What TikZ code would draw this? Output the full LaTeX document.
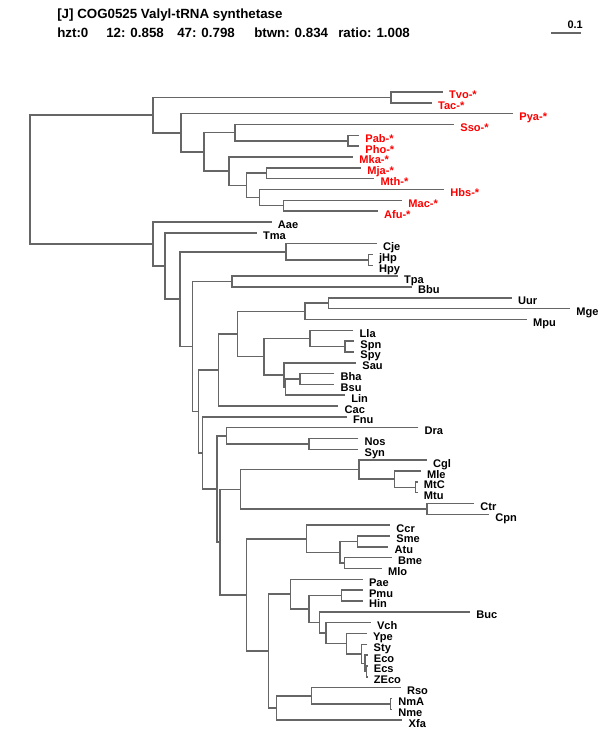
\documentclass[tikz,border=0pt]{standalone}
\usepackage{fontspec}
\setmainfont{Liberation Sans}

\begin{document}
\begin{tikzpicture}[
    x=0.75pt, y=-0.75pt,
    branch/.style={draw=black!60, line width=1.15pt},
    taxon/.style={anchor=base west, inner sep=0pt, xshift=4.6pt, yshift=-5.2pt, font=\bfseries\fontsize{8.3}{9}\selectfont},
    archaeon/.style={taxon, text=red},
    header/.style={anchor=base west, inner sep=0pt, font=\bfseries\fontsize{10}{12}\selectfont}
]
\useasboundingbox (0,0) rectangle (600,750);
% Header
\node[header] (title) at (57,18.5) {[J] COG0525 Valyl-tRNA synthetase};
\node[header] (hzt) at (57,37.5) {hzt:0};
\node[header] (q12) at (106,37.5) {12: 0.858};
\node[header] (q47) at (177,37.5) {47: 0.798};
\node[header] (btwn) at (254,37.5) {btwn: 0.834};
\node[header] (ratio) at (338,37.5) {ratio: 1.008};
% Scale bar
\coordinate (bar0) at (551,33);
\coordinate (bar1) at (581,33);
\node[anchor=base east, inner sep=0pt, font=\bfseries\fontsize{8.2}{9}\selectfont] (barlbl) at (583,28) {0.1};
% Archaea leaves
\coordinate (Tvo) at (442.7,92.0);  \node[archaeon] (Tvo-t) at (Tvo) {Tvo-*};
\coordinate (Tac) at (431.7,102.8); \node[archaeon] (Tac-t) at (Tac) {Tac-*};
\coordinate (Pya) at (513,113.7);   \node[archaeon] (Pya-t) at (Pya) {Pya-*};
\coordinate (Sso) at (454,124.5);   \node[archaeon] (Sso-t) at (Sso) {Sso-*};
\coordinate (Pab) at (359,135.3);   \node[archaeon] (Pab-t) at (Pab) {Pab-*};
\coordinate (Pho) at (359,146.2);   \node[archaeon] (Pho-t) at (Pho) {Pho-*};
\coordinate (Mka) at (353,157.0);   \node[archaeon] (Mka-t) at (Mka) {Mka-*};
\coordinate (Mja) at (361,167.8);   \node[archaeon] (Mja-t) at (Mja) {Mja-*};
\coordinate (Mth) at (374.3,178.6); \node[archaeon] (Mth-t) at (Mth) {Mth-*};
\coordinate (Hbs) at (444,189.5);   \node[archaeon] (Hbs-t) at (Hbs) {Hbs-*};
\coordinate (Mac) at (402,200.3);   \node[archaeon] (Mac-t) at (Mac) {Mac-*};
\coordinate (Afu) at (377.7,211.1); \node[archaeon] (Afu-t) at (Afu) {Afu-*};
% Bacteria leaves
\coordinate (Aae) at (271.5,222.0); \node[taxon] (Aae-t) at (Aae) {Aae};
\coordinate (Tma) at (256.7,232.8); \node[taxon] (Tma-t) at (Tma) {Tma};
\coordinate (Cje) at (376.7,243.6); \node[taxon] (Cje-t) at (Cje) {Cje};
\coordinate (jHp) at (372.7,254.5); \node[taxon] (jHp-t) at (jHp) {jHp};
\coordinate (Hpy) at (372.7,265.3); \node[taxon] (Hpy-t) at (Hpy) {Hpy};
\coordinate (Tpa) at (397.7,276.1); \node[taxon] (Tpa-t) at (Tpa) {Tpa};
\coordinate (Bbu) at (411.7,286.9); \node[taxon] (Bbu-t) at (Bbu) {Bbu};
\coordinate (Uur) at (511.7,297.8); \node[taxon] (Uur-t) at (Uur) {Uur};
\coordinate (Mge) at (570,308.6);   \node[taxon] (Mge-t) at (Mge) {Mge};
\coordinate (Mpu) at (526.7,319.4); \node[taxon] (Mpu-t) at (Mpu) {Mpu};
\coordinate (Lla) at (353.3,330.3); \node[taxon] (Lla-t) at (Lla) {Lla};
\coordinate (Spn) at (354,341.1);   \node[taxon] (Spn-t) at (Spn) {Spn};
\coordinate (Spy) at (354,351.9);   \node[taxon] (Spy-t) at (Spy) {Spy};
\coordinate (Sau) at (356,362.8);   \node[taxon] (Sau-t) at (Sau) {Sau};
\coordinate (Bha) at (334.3,373.6); \node[taxon] (Bha-t) at (Bha) {Bha};
\coordinate (Bsu) at (334.3,384.4); \node[taxon] (Bsu-t) at (Bsu) {Bsu};
\coordinate (Lin) at (345,395.2);   \node[taxon] (Lin-t) at (Lin) {Lin};
\coordinate (Cac) at (338.3,406.1); \node[taxon] (Cac-t) at (Cac) {Cac};
\coordinate (Fnu) at (346.7,416.9); \node[taxon] (Fnu-t) at (Fnu) {Fnu};
\coordinate (Dra) at (418.3,427.7); \node[taxon] (Dra-t) at (Dra) {Dra};
\coordinate (Nos) at (358.3,438.6); \node[taxon] (Nos-t) at (Nos) {Nos};
\coordinate (Syn) at (358.3,449.4); \node[taxon] (Syn-t) at (Syn) {Syn};
\coordinate (Cgl) at (426.7,460.2); \node[taxon] (Cgl-t) at (Cgl) {Cgl};
\coordinate (Mle) at (420.7,471.1); \node[taxon] (Mle-t) at (Mle) {Mle};
\coordinate (MtC) at (417.5,481.9); \node[taxon] (MtC-t) at (MtC) {MtC};
\coordinate (Mtu) at (417.5,492.7); \node[taxon] (Mtu-t) at (Mtu) {Mtu};
\coordinate (Ctr) at (474,503.5);   \node[taxon] (Ctr-t) at (Ctr) {Ctr};
\coordinate (Cpn) at (489,514.4);   \node[taxon] (Cpn-t) at (Cpn) {Cpn};
\coordinate (Ccr) at (390,525.2);   \node[taxon] (Ccr-t) at (Ccr) {Ccr};
\coordinate (Sme) at (390,536.0);   \node[taxon] (Sme-t) at (Sme) {Sme};
\coordinate (Atu) at (388.3,546.9); \node[taxon] (Atu-t) at (Atu) {Atu};
\coordinate (Bme) at (391.7,557.7); \node[taxon] (Bme-t) at (Bme) {Bme};
\coordinate (Mlo) at (381.7,568.5); \node[taxon] (Mlo-t) at (Mlo) {Mlo};
\coordinate (Pae) at (362.7,579.4); \node[taxon] (Pae-t) at (Pae) {Pae};
\coordinate (Pmu) at (362.7,590.2); \node[taxon] (Pmu-t) at (Pmu) {Pmu};
\coordinate (Hin) at (362.7,601.0); \node[taxon] (Hin-t) at (Hin) {Hin};
\coordinate (Buc) at (470,611.8);   \node[taxon] (Buc-t) at (Buc) {Buc};
\coordinate (Vch) at (370.7,622.7); \node[taxon] (Vch-t) at (Vch) {Vch};
\coordinate (Ype) at (366.7,633.5); \node[taxon] (Ype-t) at (Ype) {Ype};
\coordinate (Sty) at (367.3,644.3); \node[taxon] (Sty-t) at (Sty) {Sty};
\coordinate (Eco) at (367.5,655.2); \node[taxon] (Eco-t) at (Eco) {Eco};
\coordinate (Ecs) at (367.5,666.0); \node[taxon] (Ecs-t) at (Ecs) {Ecs};
\coordinate (ZEco) at (367.5,676.8); \node[taxon] (ZEco-t) at (ZEco) {ZEco};
\coordinate (Rso) at (400.7,687.6); \node[taxon] (Rso-t) at (Rso) {Rso};
\coordinate (NmA) at (392,698.5);   \node[taxon] (NmA-t) at (NmA) {NmA};
\coordinate (Nme) at (392,709.3);   \node[taxon] (Nme-t) at (Nme) {Nme};
\coordinate (Xfa) at (402.3,720.1); \node[taxon] (Xfa-t) at (Xfa) {Xfa};
% Inner nodes, archaea
\coordinate (root) at (30,179.5);
\coordinate (arc) at (153,115.1);
\coordinate (tt) at (391,97.4);
\coordinate (a1) at (181,132.8);
\coordinate (a2) at (204,151.9);
\coordinate (a3) at (235,132.6);
\coordinate (pp) at (348,140.75);
\coordinate (a4) at (229,171.2);
\coordinate (a5) at (246.5,185.4);
\coordinate (a6) at (266.5,173.2);
\coordinate (a7) at (259.6,197.6);
\coordinate (a8) at (283.3,205.7);
% Inner nodes, bacteria
\coordinate (bac) at (153,244.0);
\coordinate (b1) at (165,265.95);
\coordinate (b2) at (180,299.1);
\coordinate (cj) at (286,251.75);
\coordinate (hp) at (368.3,259.9);
\coordinate (b3) at (192.3,346.5);
\coordinate (tb) at (232,281.5);
\coordinate (b4) at (198.7,411.5);
\coordinate (b5) at (218.7,370.05);
\coordinate (b7) at (237.3,334);
\coordinate (my) at (305,311.3);
\coordinate (um) at (328.3,303.2);
\coordinate (b8) at (264,356.7);
\coordinate (ls) at (310,338.4);
\coordinate (sp) at (345,346.5);
\coordinate (bs) at (284,374.95);
\coordinate (bq) at (285.7,387.1);
\coordinate (bb) at (300,379);
\coordinate (b6) at (202.7,452.95);
\coordinate (b9) at (217,489);
\coordinate (cy) at (226.7,435.85);
\coordinate (ns) at (309,444);
\coordinate (b10) at (220,542.1);
\coordinate (ac) at (240.7,489.3);
\coordinate (cg) at (359,469.7);
\coordinate (ml) at (394.3,479.2);
\coordinate (mt) at (415.7,487.3);
\coordinate (ct) at (427,508.95);
\coordinate (b11) at (246.7,594.9);
\coordinate (al) at (306.7,538.75);
\coordinate (rh) at (340,552.3);
\coordinate (sa) at (357.7,541.45);
\coordinate (bm) at (344.3,563.1);
\coordinate (b12) at (268.7,651.05);
\coordinate (gm) at (290.7,594.2);
\coordinate (g1) at (309,609.05);
\coordinate (ph) at (341.7,595.6);
\coordinate (g2) at (319.7,622.5);
\coordinate (g3) at (326,633.2);
\coordinate (g4) at (346.7,643.65);
\coordinate (g5) at (361.7,653.8);
\coordinate (ec) at (365,663.3);
\coordinate (e2) at (366.3,671.4);
\coordinate (nx) at (276.7,707.9);
\coordinate (nr) at (311.7,695.75);
\coordinate (nm) at (390.7,703.9);
% Branches
\draw[branch] (bar0) -- (bar1);
\draw[branch] (arc) -| (root) |- (bac);
\draw[branch] (tt) -| (arc) |- (a1);
\draw[branch] (Tvo) -| (tt) |- (Tac);
\draw[branch] (Pya) -| (a1) |- (a2);
\draw[branch] (a3) -| (a2) |- (a4);
\draw[branch] (Sso) -| (a3) |- (pp);
\draw[branch] (Pab) -| (pp) |- (Pho);
\draw[branch] (Mka) -| (a4) |- (a5);
\draw[branch] (a6) -| (a5) |- (a7);
\draw[branch] (Mja) -| (a6) |- (Mth);
\draw[branch] (Hbs) -| (a7) |- (a8);
\draw[branch] (Mac) -| (a8) |- (Afu);
\draw[branch] (Aae) -| (bac) |- (b1);
\draw[branch] (Tma) -| (b1) |- (b2);
\draw[branch] (cj) -| (b2) |- (b3);
\draw[branch] (Cje) -| (cj) |- (hp);
\draw[branch] (jHp) -| (hp) |- (Hpy);
\draw[branch] (tb) -| (b3) |- (b4);
\draw[branch] (Tpa) -| (tb) |- (Bbu);
\draw[branch] (b5) -| (b4) |- (b6);
\draw[branch] (b7) -| (b5) |- (Cac);
\draw[branch] (my) -| (b7) |- (b8);
\draw[branch] (um) -| (my) |- (Mpu);
\draw[branch] (Uur) -| (um) |- (Mge);
\draw[branch] (ls) -| (b8) |- (bs);
\draw[branch] (Lla) -| (ls) |- (sp);
\draw[branch] (Spn) -| (sp) |- (Spy);
\draw[branch] (Sau) -| (bs) |- (bq);
\draw[branch] (bb) -| (bq) |- (Lin);
\draw[branch] (Bha) -| (bb) |- (Bsu);
\draw[branch] (Fnu) -| (b6) |- (b9);
\draw[branch] (cy) -| (b9) |- (b10);
\draw[branch] (Dra) -| (cy) |- (ns);
\draw[branch] (Nos) -| (ns) |- (Syn);
\draw[branch] (ac) -| (b10) |- (b11);
\draw[branch] (cg) -| (ac) |- (ct);
\draw[branch] (Cgl) -| (cg) |- (ml);
\draw[branch] (Mle) -| (ml) |- (mt);
\draw[branch] (MtC) -| (mt) |- (Mtu);
\draw[branch] (Ctr) -| (ct) |- (Cpn);
\draw[branch] (al) -| (b11) |- (b12);
\draw[branch] (Ccr) -| (al) |- (rh);
\draw[branch] (sa) -| (rh) |- (bm);
\draw[branch] (Sme) -| (sa) |- (Atu);
\draw[branch] (Bme) -| (bm) |- (Mlo);
\draw[branch] (gm) -| (b12) |- (nx);
\draw[branch] (Pae) -| (gm) |- (g1);
\draw[branch] (ph) -| (g1) |- (g2);
\draw[branch] (Pmu) -| (ph) |- (Hin);
\draw[branch] (Buc) -| (g2) |- (g3);
\draw[branch] (Vch) -| (g3) |- (g4);
\draw[branch] (Ype) -| (g4) |- (g5);
\draw[branch] (Sty) -| (g5) |- (ec);
\draw[branch] (Eco) -| (ec) |- (e2);
\draw[branch] (Ecs) -| (e2) |- (ZEco);
\draw[branch] (nr) -| (nx) |- (Xfa);
\draw[branch] (Rso) -| (nr) |- (nm);
\draw[branch] (NmA) -| (nm) |- (Nme);
\end{tikzpicture}
\end{document}
